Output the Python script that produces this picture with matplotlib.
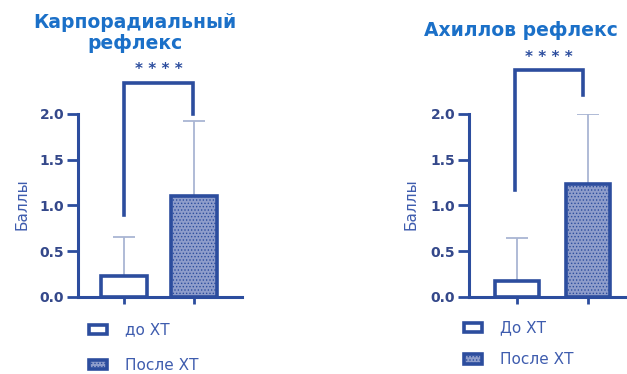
import matplotlib
matplotlib.use('Agg')
import matplotlib.pyplot as plt

W, H = 627, 374

# Data
titles = ['Карпорадиальный\nрефлекс', 'Ахиллов рефлекс']
groupLabels = [['до ХТ', 'После ХТ'], ['До ХТ', 'После ХТ']]
means = [[0.23, 1.10], [0.17, 1.23]]
upperErr = [[0.43, 0.82], [0.47, 0.77]]
yTicks = [0.0, 0.5, 1.0, 1.5, 2.0]
stars = '* * * *'

AXIS_COL = '#2c4d9e'
TICK_COL = '#34488a'
TITLE_COL = '#1b70c8'
ERR_COL = '#a9b5d3'
FILL_COL = '#8e9dcb'
LABEL_COL = '#3e5cae'

plt.rcParams['hatch.linewidth'] = 0.6
plt.rcParams['hatch.color'] = '#d0d8ee'
plt.rcParams['font.family'] = 'DejaVu Sans'

fig = plt.figure(figsize=(W / 100, H / 100), dpi=100)


def px_axes(x0, x1, y_top, y_bot):
    # axes rect from pixel coordinates
    return fig.add_axes([x0 / W, 1 - y_bot / H, (x1 - x0) / W, (y_bot - y_top) / H])


# panel layouts: axis pixel bounds, xlim, bar width, bracket, title pos, legend pos
panels = [
    dict(rect=(78, 242, 114, 297), xlim=(-0.657, 1.686), width=0.67,
         bracket=(0.0, 0.99, 0.9, 2.0, 2.34), starY=2.40,
         title=(135, 33), ylab=(22, 204), legend=(81, 315), spacing=1.35),
    dict(rect=(469, 627, 114, 297), xlim=(-0.676, 1.55), width=0.63,
         bracket=(-0.03, 0.93, 1.17, 2.21, 2.48), starY=2.54,
         title=(521, 30), ylab=(411, 204), legend=(456, 313), spacing=1.1),
]

for i, p in enumerate(panels):
    ax = px_axes(*p['rect'])
    xs = [0, 1]
    ax.errorbar(xs, means[i], yerr=[[0, 0], upperErr[i]], fmt='none',
                ecolor=ERR_COL, elinewidth=1.3, capsize=8, capthick=1.3, zorder=1)
    b1 = ax.bar(xs[0], means[i][0], width=p['width'], facecolor='white',
                edgecolor=AXIS_COL, linewidth=2.6, zorder=2, label=groupLabels[i][0])
    b2 = ax.bar(xs[1], means[i][1], width=p['width'], facecolor=FILL_COL,
                edgecolor=AXIS_COL, linewidth=2.6, hatch='.....', zorder=2,
                label=groupLabels[i][1])

    ax.set_xlim(*p['xlim'])
    ax.set_ylim(0, 2.0)
    ax.set_yticks(yTicks)
    ax.set_yticklabels([f'{t:.1f}' for t in yTicks], fontweight='bold',
                       color=TICK_COL, fontsize=10)
    ax.set_xticks(xs)
    ax.set_xticklabels([])
    for side in ['top', 'right']:
        ax.spines[side].set_visible(False)
    for side in ['left', 'bottom']:
        ax.spines[side].set_color(AXIS_COL)
        ax.spines[side].set_linewidth(2.2)
    ax.tick_params(axis='y', length=8, width=2, color=AXIS_COL, pad=2)
    ax.tick_params(axis='x', length=5, width=2, color=AXIS_COL)
    ax.patch.set_alpha(0)

    # significance bracket
    xl, xr, yl, yr, ytop = p['bracket']
    ax.plot([xl, xl, xr, xr], [yl, ytop, ytop, yr], color=AXIS_COL,
            linewidth=2.6, clip_on=False, solid_joinstyle='miter', zorder=3)
    ax.text((xl + xr) / 2, p['starY'], stars, ha='center', va='bottom',
            color=AXIS_COL, fontsize=11, fontweight='bold', clip_on=False)

    tx, ty = p['title']
    fig.text(tx / W, 1 - ty / H, titles[i], ha='center', va='center',
             color=TITLE_COL, fontsize=13.5, fontweight='bold', linespacing=1.15)
    lx, ly = p['ylab']
    fig.text(lx / W, 1 - ly / H, 'Баллы', rotation=90, ha='center', va='center',
             color=LABEL_COL, fontsize=11)

    gx, gy = p['legend']
    ax.legend(handles=[b1, b2], loc='upper left',
              bbox_to_anchor=(gx / W, 1 - gy / H), bbox_transform=fig.transFigure,
              frameon=False, handlelength=1.2, handleheight=0.55,
              handletextpad=1.2, labelspacing=p['spacing'], borderpad=0,
              prop={'size': 11}, labelcolor=LABEL_COL)

fig.savefig('out.png', dpi=100)
